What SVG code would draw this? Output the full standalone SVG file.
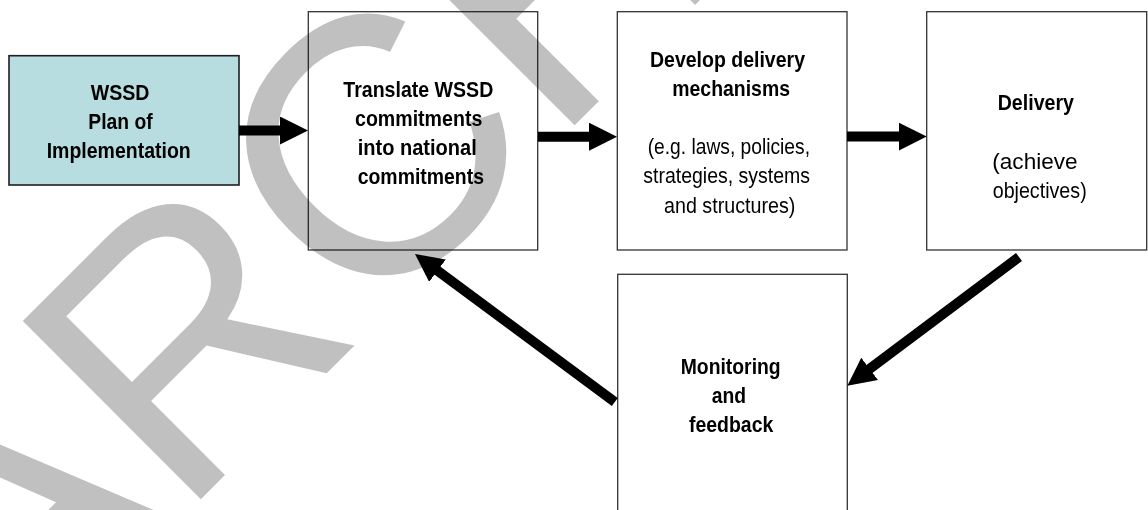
<svg xmlns="http://www.w3.org/2000/svg" width="1148" height="510" viewBox="0 0 1148 510">
  <style>
    .box { fill: #ffffff; stroke: #333333; stroke-width: 1.3; }
    .start { fill: #b7dde1; stroke: #1e1e1e; stroke-width: 1.6; }
    .t { font-family: "Liberation Sans", Arial, sans-serif; font-size: 22px; fill: #000000; }
    .b { font-weight: bold; }
    .conn { stroke: #000000; stroke-width: 10; fill: none; marker-end: url(#ah); }
    .wm { font-family: "Liberation Sans", Arial, sans-serif; font-size: 366px; fill: #c0c0c0; }
  </style>
  <defs>
    <marker id="ah" viewBox="0 0 28 28" markerWidth="28" markerHeight="28" markerUnits="userSpaceOnUse" refX="2" refY="14" orient="auto">
      <path d="M0,0 L28,14 L0,28 Z" fill="#000000"/>
    </marker>
  </defs>
  <rect x="0" y="0" width="1148" height="510" fill="#ffffff"/>

  <g id="node-wssd">
    <rect class="start" x="9" y="55.7" width="230" height="129.3"/>
    <text class="t b" x="90.7" y="100" textLength="58.7" lengthAdjust="spacingAndGlyphs">WSSD</text>
    <text class="t b" x="88.3" y="128.5" textLength="64.3" lengthAdjust="spacingAndGlyphs">Plan of</text>
    <text class="t b" x="46.7" y="158" textLength="144" lengthAdjust="spacingAndGlyphs">Implementation</text>
  </g>

  <g id="node-translate">
    <rect class="box" x="308.3" y="11.7" width="229.4" height="238.3"/>
    <text class="t b" x="343.3" y="96.5" textLength="150" lengthAdjust="spacingAndGlyphs">Translate WSSD</text>
    <text class="t b" x="355" y="125.5" textLength="127.3" lengthAdjust="spacingAndGlyphs">commitments</text>
    <text class="t b" x="357.7" y="154.5" textLength="119" lengthAdjust="spacingAndGlyphs">into national</text>
    <text class="t b" x="357.7" y="183.5" textLength="126.3" lengthAdjust="spacingAndGlyphs">commitments</text>
  </g>

  <g id="node-develop">
    <rect class="box" x="617.3" y="11.7" width="229.7" height="238.3"/>
    <text class="t b" x="650" y="66.5" textLength="155" lengthAdjust="spacingAndGlyphs">Develop delivery</text>
    <text class="t b" x="672.3" y="95.5" textLength="117.7" lengthAdjust="spacingAndGlyphs">mechanisms</text>
    <text class="t" x="647.7" y="154" textLength="162.3" lengthAdjust="spacingAndGlyphs">(e.g. laws, policies,</text>
    <text class="t" x="643.3" y="183.3" textLength="166.7" lengthAdjust="spacingAndGlyphs">strategies, systems</text>
    <text class="t" x="664" y="212.5" textLength="131.3" lengthAdjust="spacingAndGlyphs">and structures)</text>
  </g>

  <g id="node-delivery">
    <rect class="box" x="926.7" y="11.7" width="220" height="238.3"/>
    <text class="t b" x="997.7" y="110" textLength="76.3" lengthAdjust="spacingAndGlyphs">Delivery</text>
    <text class="t" x="992.3" y="169" textLength="85.3" lengthAdjust="spacingAndGlyphs">(achieve</text>
    <text class="t" x="992.7" y="198.3" textLength="94" lengthAdjust="spacingAndGlyphs">objectives)</text>
  </g>

  <g id="node-monitoring">
    <rect class="box" x="617.7" y="274.3" width="229.6" height="250"/>
    <text class="t b" x="680.7" y="374" textLength="100" lengthAdjust="spacingAndGlyphs">Monitoring</text>
    <text class="t b" x="711.7" y="403" textLength="34.3" lengthAdjust="spacingAndGlyphs">and</text>
    <text class="t b" x="689" y="431.7" textLength="84.3" lengthAdjust="spacingAndGlyphs">feedback</text>
  </g>

  <g id="connectors">
    <line class="conn" x1="239" y1="130.5" x2="282" y2="130.5"/>
    <line class="conn" x1="538" y1="136.7" x2="591" y2="136.7"/>
    <line class="conn" x1="847" y1="136.6" x2="900.7" y2="136.6"/>
    <line class="conn" x1="1019" y1="257" x2="868.1" y2="370.1"/>
    <line class="conn" x1="614.8" y1="402" x2="435.9" y2="269.5"/>
  </g>

  <g id="watermark" style="mix-blend-mode: multiply">
    <text class="wm" transform="translate(7,693) rotate(-45)">ARCH</text>
  </g>
</svg>
